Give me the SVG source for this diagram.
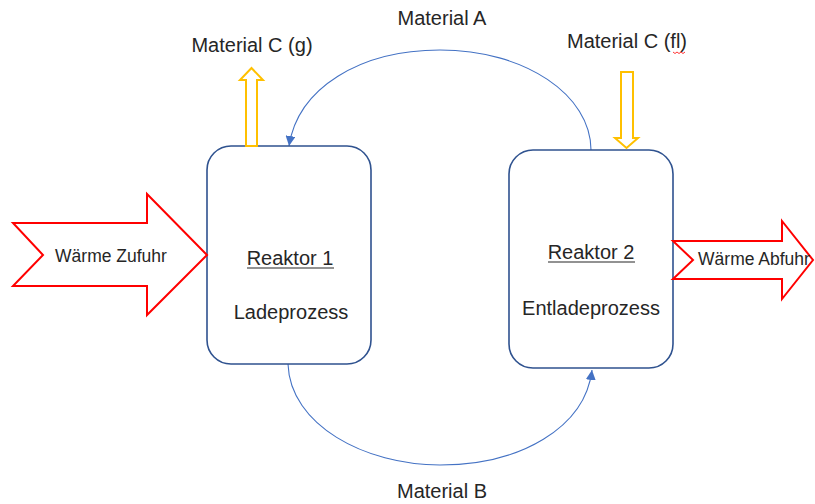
<svg xmlns="http://www.w3.org/2000/svg" width="815" height="504" viewBox="0 0 815 504">
  <defs>
    <style>
      text { font-family: "Liberation Sans", Arial, sans-serif; fill: #262626; }
      .lbl { font-size: 20px; text-anchor: middle; }
      .heat { font-size: 17.5px; text-anchor: middle; }
      .reactor { fill: #ffffff; stroke: #2F528F; stroke-width: 1.6; }
      .flow { fill: none; stroke: #4472C4; stroke-width: 1.1; }
      .heatarrow { fill: #ffffff; stroke: #FF0000; stroke-width: 2; stroke-linejoin: miter; }
      .gasarrow { fill: #ffffff; stroke: #FFC000; stroke-width: 2; stroke-linejoin: miter; }
      .uline { stroke: #262626; stroke-width: 1.2; }
    </style>
    <marker id="tip" viewBox="0 0 10 10" refX="10" refY="5" markerWidth="10" markerHeight="10" markerUnits="userSpaceOnUse" orient="auto">
      <path d="M0,0 L10,5 L0,10 Z" fill="#4472C4"/>
    </marker>
  </defs>

  <!-- material streams between the reactors -->
  <g id="connectors">
    <path class="flow" d="M591,150 C591,95 525,50 440,50 C360,50 298,88 289,146" marker-end="url(#tip)"/>
    <path class="flow" d="M288,364 C290,425 365,465 440,465 C520,465 585,428 592,370" marker-end="url(#tip)"/>
  </g>

  <g id="reaktor1">
    <rect class="reactor" x="207" y="146" width="164" height="218" rx="24" ry="24"/>
    <text class="lbl" x="290" y="265">Reaktor 1</text>
    <line class="uline" x1="247" y1="268" x2="334" y2="268"/>
    <text class="lbl" x="291" y="319">Ladeprozess</text>
  </g>

  <g id="reaktor2">
    <rect class="reactor" x="509" y="150" width="164" height="218" rx="24" ry="24"/>
    <text class="lbl" x="591" y="259">Reaktor 2</text>
    <line class="uline" x1="548" y1="262" x2="635" y2="262"/>
    <text class="lbl" x="591" y="315">Entladeprozess</text>
  </g>

  <g id="waerme-zufuhr">
    <polygon class="heatarrow" points="13,223 147,223 147,194 207,255 147,315 147,286 13,286 43,255"/>
    <text class="heat" x="111" y="262">Wärme Zufuhr</text>
  </g>

  <g id="waerme-abfuhr">
    <polygon class="heatarrow" points="673,241 782,241 782,221 813,260 782,299 782,279 673,279 693,260"/>
    <text class="heat" x="754" y="265">Wärme Abfuhr</text>
  </g>

  <g id="material-c-g">
    <polygon class="gasarrow" points="246,146 246,80 240,80 251.5,68 263,80 257,80 257,146"/>
    <text class="lbl" x="252" y="52">Material C (g)</text>
  </g>

  <g id="material-c-fl">
    <polygon class="gasarrow" points="621,72 633,72 633,138 638,138 626.5,148 615,138 621,138"/>
    <text class="lbl" x="627" y="48">Material C (fl)</text>
    <path d="M673,52 l2,1.5 l2,-1.5 l2,1.5 l2,-1.5 l2,1.5 l2,-1.5" fill="none" stroke="#FF0000" stroke-width="0.8"/>
  </g>

  <g id="material-a">
    <text class="lbl" x="442" y="25">Material A</text>
  </g>

  <g id="material-b">
    <text class="lbl" x="442" y="498">Material B</text>
  </g>
</svg>
